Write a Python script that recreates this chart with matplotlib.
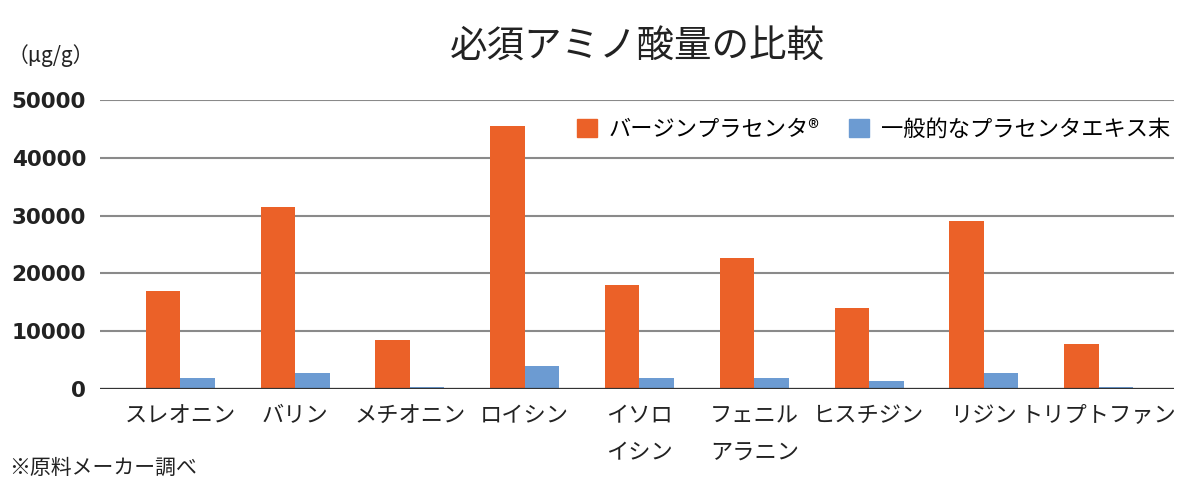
import numpy as np
import matplotlib
matplotlib.use('Agg')
import matplotlib.pyplot as plt
from matplotlib.patches import Patch

plt.rcParams['font.family'] = ['Noto Sans CJK JP', 'DejaVu Sans']

# data (μg/g)
amino = ['スレオニン', 'バリン', 'メチオニン', 'ロイシン', 'イソロ\nイシン',
         'フェニル\nアラニン', 'ヒスチジン', 'リジン', 'トリプトファン']
virgin = [17000, 31500, 8500, 45500, 18000, 22700, 14000, 29000, 7800]
general = [1900, 2700, 350, 3900, 1900, 1900, 1400, 2700, 350]
series_names = ['バージンプラセンタ®', '一般的なプラセンタエキス末']
yticks = [0, 10000, 20000, 30000, 40000, 50000]

c_orange = '#EB6128'
c_blue = '#6C9BD2'

fig = plt.figure(figsize=(12, 4.92), dpi=100)
ax = fig.add_axes([0.0833, 0.2093, 0.8954, 0.5874])

x = np.arange(len(amino))
w = 0.3
ax.bar(x - w/2, virgin, w, color=c_orange, zorder=3)
ax.bar(x + w/2, general, w, color=c_blue, zorder=3)

ax.set_xlim(-0.7, 8.66)
ax.set_ylim(0, 50000)
ax.set_yticks(yticks)
ax.set_yticklabels([str(v) for v in yticks], fontsize=15.5, fontweight='bold',
                   color='#222222', family='DejaVu Sans')
ax.set_xticks(x)
ax.set_xticklabels(amino, fontsize=16, color='#222222', linespacing=1.8)
ax.tick_params(axis='both', length=0)
ax.tick_params(axis='y', pad=10)
ax.tick_params(axis='x', pad=11)
for s in ax.spines.values():
    s.set_visible(False)
ax.yaxis.grid(True, color='#8a8a8a', linewidth=1.5, zorder=0)
ax.axhline(0, color='#333333', linewidth=1.6, zorder=4)

handles = [Patch(color=c_orange), Patch(color=c_blue)]
fig.legend(handles, series_names, loc='center right', ncol=2,
           bbox_to_anchor=(0.975, 0.738), frameon=False, fontsize=16,
           handlelength=0.9, handleheight=0.9, handletextpad=0.55,
           columnspacing=1.3, borderpad=0, borderaxespad=0)

fig.text(0.531, 0.905, '必須アミノ酸量の比較', fontsize=27, ha='center', va='center',
         color='#222222')
fig.text(0.006, 0.888, '（μg/g）', fontsize=15, ha='left', va='center', color='#222222')
fig.text(0.008, 0.05, '※原料メーカー調べ', fontsize=15, ha='left', va='center',
         color='#222222')

fig.savefig('out.png', dpi=100, facecolor='white')
